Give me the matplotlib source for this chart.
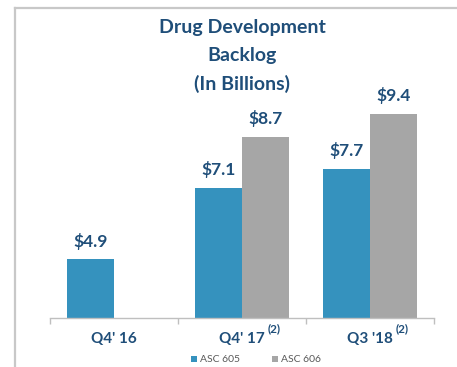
import numpy as np
import matplotlib
matplotlib.use("Agg")
import matplotlib.pyplot as plt
from matplotlib.lines import Line2D

categories = ["Q4' 16", "Q4' 17", "Q3 '18"]
footnotes = ["", "(2)", "(2)"]
asc605 = [4.9, 7.1, 7.7]
asc606 = [np.nan, 8.7, 9.4]
series_names = ["ASC 605", "ASC 606"]
title = "Drug Development\nBacklog\n(In Billions)"

blue = "#3592BE"
gray = "#A6A6A6"
dark = "#1F4E79"

plt.rcParams['font.family'] = ['Lato', 'DejaVu Sans']

fig = plt.figure(figsize=(4.57, 3.67), dpi=100)
fig.patch.set_facecolor("white")
ax = fig.add_axes([50/457, 1-318/367, 384/457, 258/367])

x = np.arange(len(categories))
w = 0.367
b1 = ax.bar(x - w/2, asc605, w, color=blue, label=series_names[0])
b2 = ax.bar(x + w/2, asc606, w, color=gray, label=series_names[1])

for bars, vals in ((b1, asc605), (b2, asc606)):
    for r, v in zip(bars, vals):
        if np.isnan(v):
            continue
        ax.annotate(f"${v:.1f}", (r.get_x() + r.get_width()/2, v),
                    xytext=(0, 7), textcoords="offset points",
                    ha="center", va="bottom", fontsize=12.5, fontweight="bold",
                    color=dark)

ax.set_xlim(-0.5, len(categories) - 0.5)
ax.set_ylim(3.08, 11.07)
ax.set_yticks([])
for s in ("left", "right", "top"):
    ax.spines[s].set_visible(False)
ax.spines["bottom"].set_color("#BFBFBF")
ax.spines["bottom"].set_linewidth(1.0)

ax.set_xticks(x)
ax.set_xticklabels(categories, fontsize=11, fontweight="bold", color=dark)
ax.tick_params(axis="x", which="major", length=0, pad=10)
ax.set_xticks(np.arange(len(categories) + 1) - 0.5, minor=True)
ax.tick_params(axis="x", which="minor", length=4, color="#BFBFBF", width=1)

fig.canvas.draw()
for lbl, fn in zip(ax.get_xticklabels(), footnotes):
    if fn:
        ax.annotate(fn, xy=(1, 1), xycoords=lbl, xytext=(2, -2),
                    textcoords="offset points", ha="left", va="bottom",
                    fontsize=8.5, fontweight="bold", color=dark)

fig.text(0.53, 0.947, title, ha="center", va="top", fontsize=14,
         fontweight="bold", color=dark, linespacing=1.75)

leg = fig.legend(handles=[b1, b2], labels=series_names, loc="center",
                 bbox_to_anchor=(256/457, 1-360/367), ncol=2, frameon=False,
                 fontsize=7.5, handlelength=0.6, handleheight=0.6,
                 columnspacing=3.0, handletextpad=0.3)
for t in leg.get_texts():
    t.set_color("#595959")

fig.add_artist(Line2D([15/457, 15/457], [0, 1-8/367], transform=fig.transFigure,
                      color="#C8C8C8", lw=1.6))
fig.add_artist(Line2D([15/457, 1], [1-8/367, 1-8/367], transform=fig.transFigure,
                      color="#C8C8C8", lw=1.6))

fig.savefig("out.png", dpi=100, facecolor="white")
